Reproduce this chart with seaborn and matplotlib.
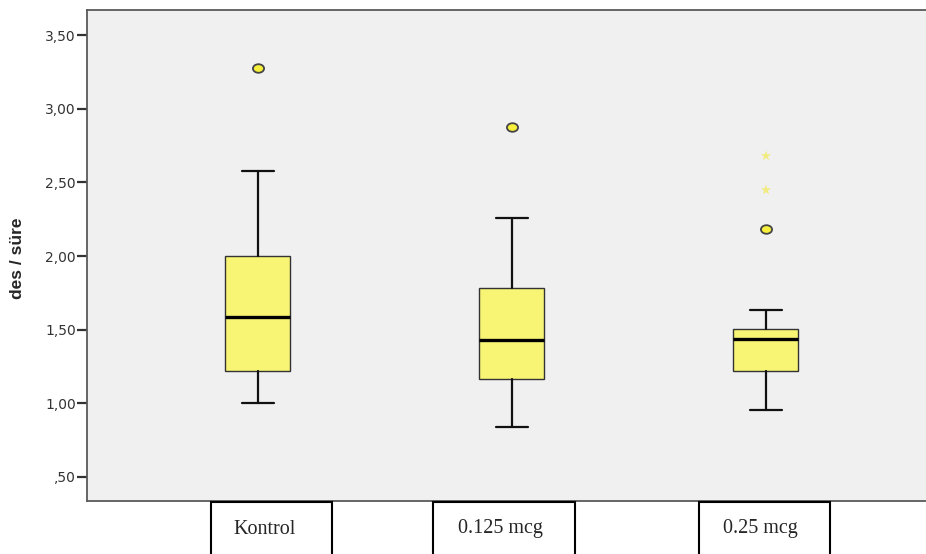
"""SPSS-style boxplot of des / süre by dose group, redrawn with seaborn."""
import matplotlib
matplotlib.use("Agg")
import matplotlib.pyplot as plt
from matplotlib.markers import MarkerStyle
from matplotlib.patches import Rectangle
from matplotlib.transforms import Affine2D
import pandas as pd
import seaborn as sns

# Box summaries
groups = ["Kontrol", "0.125 mcg", "0.25 mcg"]
whisker_low = [1.00, 0.84, 0.955]
q1 = [1.22, 1.165, 1.22]
median = [1.585, 1.43, 1.435]
q3 = [2.00, 1.783, 1.505]
whisker_high = [2.577, 2.258, 1.634]

# Points beyond the whiskers (circle = outlier, star = extreme)
out_group = ["Kontrol", "0.125 mcg", "0.25 mcg", "0.25 mcg", "0.25 mcg"]
out_value = [3.277, 2.876, 2.184, 2.448, 2.68]
out_kind = ["outlier", "outlier", "outlier", "extreme", "extreme"]

y_ticks = [0.5, 1.0, 1.5, 2.0, 2.5, 3.0, 3.5]

W, H = 926, 554


def tick_label(v):
    s = f"{v:.2f}".replace(".", ",")
    return s[1:] if s.startswith("0") else s


sns.set_style("white")
plt.rcParams["font.family"] = ["DejaVu Sans"]

fig = plt.figure(figsize=(W / 100, H / 100), dpi=100)
ax = fig.add_axes([87 / W, 1 - 501 / H, (W - 87) / W, (501 - 10) / H])
ax.set_facecolor("#F0F0F0")

stats = [
    {"label": g, "whislo": lo, "q1": a, "med": m, "q3": b, "whishi": hi}
    for g, lo, a, m, b, hi in zip(groups, whisker_low, q1, median, q3, whisker_high)
]
ax.bxp(
    stats,
    positions=range(len(groups)),
    widths=0.256,
    capwidths=0.126,
    patch_artist=True,
    showfliers=False,
    boxprops=dict(facecolor="#F9F574", edgecolor="#333333", linewidth=1.0),
    medianprops=dict(color="black", linewidth=2.4, solid_capstyle="butt"),
    whiskerprops=dict(color="#111111", linewidth=1.6),
    capprops=dict(color="#111111", linewidth=1.6),
)

fl = pd.DataFrame({"group": out_group, "value": out_value, "kind": out_kind})
fl["pos"] = fl["group"].map({g: i for i, g in enumerate(groups)})
oval = MarkerStyle("o", transform=Affine2D().scale(1.3, 1.0))
sns.scatterplot(data=fl[fl["kind"] == "outlier"], x="pos", y="value", ax=ax,
                marker=oval, s=38, color="#F6F03C", edgecolor="#444444",
                linewidth=1.3, zorder=5, legend=False)
sns.scatterplot(data=fl[fl["kind"] == "extreme"], x="pos", y="value", ax=ax,
                marker="*", s=60, color="#F2EC80", edgecolor="none",
                linewidth=0, zorder=5, legend=False)

ax.set_xlim(-0.673, 2.630)
ax.set_ylim(0.337, 3.670)
ax.set_xticks([])
ax.set_xlabel("")
ax.set_ylabel("")
ax.set_yticks(y_ticks)
ax.set_yticklabels([tick_label(v) for v in y_ticks], fontsize=10, color="#333333")
ax.tick_params(axis="y", left=True, direction="out", length=7, width=1.6,
               color="#333333", pad=1)

for side in ("left", "bottom", "top"):
    ax.spines[side].set_color("#5a5a5a")
    ax.spines[side].set_linewidth(1.3)
    ax.spines[side].set_visible(True)
ax.spines["right"].set_visible(False)

fig.text(18 / W, 1 - 258 / H, "des / süre", rotation=90, ha="center", va="center",
         fontsize=12.5, fontweight="bold",
         family=["Liberation Sans Narrow", "Liberation Sans", "DejaVu Sans"])

# category cells under the plot, like the table in the source
cells = [(211, 332, 265), (433, 575, 500), (699, 830, 760)]
for (x0, x1, xc), name in zip(cells, groups):
    fig.patches.append(Rectangle((x0 / W, -0.05), (x1 - x0) / W, 0.05 + 1 - 502 / H,
                                 transform=fig.transFigure, facecolor="white",
                                 edgecolor="black", linewidth=1.5, clip_on=False))
    fig.text(xc / W, 1 - 529 / H, name, ha="center", va="center", fontsize=14.5,
             family=["Liberation Serif", "DejaVu Serif"])

fig.savefig("out.png", dpi=100, facecolor="white")
